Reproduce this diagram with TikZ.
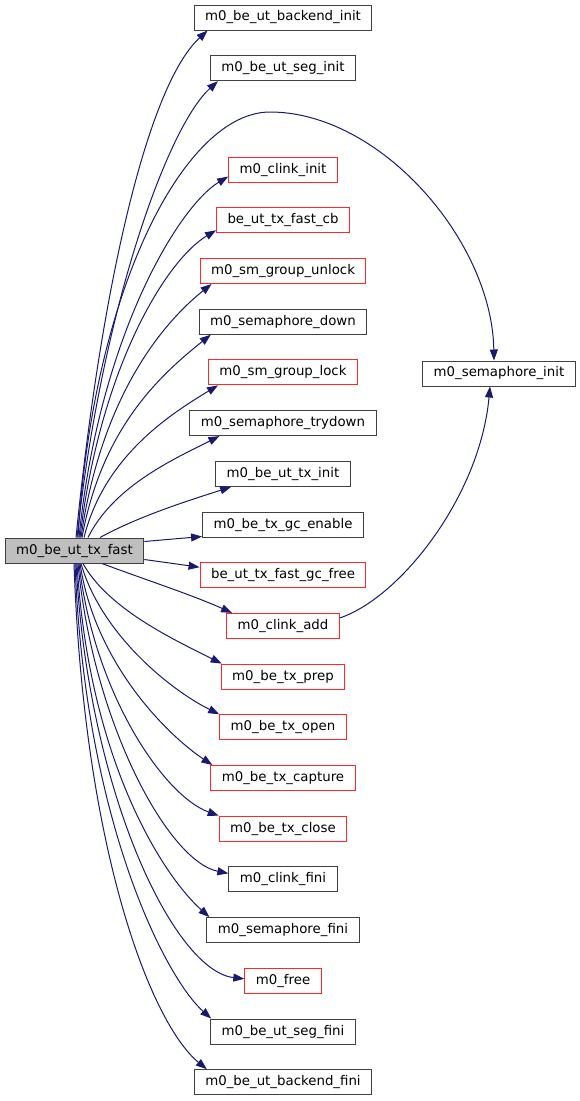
\documentclass[tikz,border=0pt]{standalone}
\usepackage{fontspec}
\setmainfont{DejaVu Sans}
\usetikzlibrary{arrows.meta}
\definecolor{navy}{RGB}{25,25,112}
\definecolor{fnred}{RGB}{255,40,40}

\begin{document}
\begin{tikzpicture}[x=1pt,y=-1pt,
  fn/.style={draw=black!75,line width=1pt,fill=white,minimum height=25pt,
    inner xsep=11pt,inner ysep=0pt,font=\fontsize{13.33}{16}\selectfont},
  redfn/.style={fn,draw=fnred},
  mainfn/.style={fn,fill=black!25},
  edgecall/.style={draw=navy,line width=1pt,-{Triangle[length=11pt,width=8pt]}}]
\useasboundingbox (0,0) rectangle (579,1101);

\node[mainfn] (main) at (74.5,550.5) {m0\_be\_ut\_tx\_fast};

\node[fn] (n0) at (283,17.5) {m0\_be\_ut\_backend\_init};
\node[fn] (n1) at (283,68.2) {m0\_be\_ut\_seg\_init};
\node[redfn] (n3) at (283,169.6) {m0\_clink\_init};
\node[redfn] (n4) at (283,220.3) {be\_ut\_tx\_fast\_cb};
\node[redfn] (n5) at (283,271) {m0\_sm\_group\_unlock};
\node[fn] (n6) at (283,321.7) {m0\_semaphore\_down};
\node[redfn] (n7) at (283,372.4) {m0\_sm\_group\_lock};
\node[fn] (n8) at (283,423.1) {m0\_semaphore\_trydown};
\node[fn] (n9) at (283,473.8) {m0\_be\_ut\_tx\_init};
\node[fn] (n10) at (283,524.5) {m0\_be\_tx\_gc\_enable};
\node[redfn] (n11) at (283,575.2) {be\_ut\_tx\_fast\_gc\_free};
\node[redfn] (n12) at (283,625.9) {m0\_clink\_add};
\node[redfn] (n13) at (283,676.6) {m0\_be\_tx\_prep};
\node[redfn] (n14) at (283,727.3) {m0\_be\_tx\_open};
\node[redfn] (n15) at (283,778) {m0\_be\_tx\_capture};
\node[redfn] (n16) at (283,828.7) {m0\_be\_tx\_close};
\node[fn] (n17) at (283,879.4) {m0\_clink\_fini};
\node[fn] (n18) at (283,930.1) {m0\_semaphore\_fini};
\node[redfn] (n19) at (283,980.8) {m0\_free};
\node[fn] (n20) at (283,1031.5) {m0\_be\_ut\_seg\_fini};
\node[fn] (n21) at (283,1082.2) {m0\_be\_ut\_backend\_fini};

\node[fn] (seminit) at (499,373.5) {m0\_semaphore\_init};

% calls going up
\draw[edgecall] ([xshift=1.5pt]main.north) .. controls +(25,-250) and +(-60,55) .. ([xshift=14pt]n0.south west);
\draw[edgecall] ([xshift=2.5pt]main.north) .. controls +(25,-230) and +(-50,45) .. ([xshift=8pt]n1.south west);
\draw[edgecall] ([xshift=3.5pt]main.north) .. controls +(15,-250) and +(-85,0) .. (270,112)
  .. controls +(110,0) and +(-2,-120) .. ([xshift=-5pt]seminit.north);
\draw[edgecall] ([xshift=4.5pt]main.north) .. controls +(20,-200) and +(-50,30) .. ([yshift=-7pt]n3.west);
\draw[edgecall] ([xshift=5.5pt]main.north) .. controls +(20,-170) and +(-50,30) .. ([yshift=3pt]n4.south west);
\draw[edgecall] ([xshift=6.5pt]main.north) .. controls +(20,-140) and +(-50,40) .. ([xshift=12pt]n5.south west);
\draw[edgecall] ([xshift=7.5pt]main.north) .. controls +(20,-110) and +(-50,40) .. ([xshift=12pt]n6.south west);
\draw[edgecall] ([xshift=9.5pt]main.north) .. controls +(20,-80) and +(-50,30) .. ([xshift=10pt]n7.south west);
\draw[edgecall] ([xshift=13.5pt]main.north) .. controls +(25,-50) and +(-50,25) .. ([xshift=30pt]n8.south west);
\draw[edgecall] ([xshift=25.5pt]main.north) .. controls +(40,-22) and +(-40,13) .. ([xshift=16pt]n9.south west);
\draw[edgecall] ([yshift=9pt]main.east) -- ([yshift=1pt]n10.south west);
\draw[edgecall] ([yshift=-9pt]main.east) -- ([yshift=-5pt]n11.north west);
% calls going down
\draw[edgecall] ([xshift=27.5pt]main.south) .. controls +(40,15) and +(-40,-18) .. ([xshift=6pt]n12.north west);
\draw[edgecall] ([xshift=8.5pt]main.south) .. controls +(25,45) and +(-50,-25) .. ([xshift=1pt]n13.north west);
\draw[edgecall] ([xshift=6.5pt]main.south) .. controls +(20,70) and +(-50,-25) .. (n14.north west);
\draw[edgecall] ([xshift=5.5pt]main.south) .. controls +(15,100) and +(-45,-30) .. ([xshift=2pt]n15.north west);
\draw[edgecall] ([xshift=4.5pt]main.south) .. controls +(15,130) and +(-55,-20) .. (n16.north west);
\draw[edgecall] ([xshift=3.5pt]main.south) .. controls +(15,160) and +(-60,-12) .. ([yshift=6pt]n17.west);
\draw[edgecall] ([xshift=2.5pt]main.south) .. controls +(12,200) and +(-45,-40) .. ([xshift=3pt]n18.north west);
\draw[edgecall] ([xshift=1.5pt]main.south) .. controls +(12,230) and +(-70,-8) .. ([yshift=2pt]n19.west);
\draw[edgecall] ([xshift=0.5pt]main.south) .. controls +(10,260) and +(-45,-40) .. ([xshift=1pt]n20.north west);
\draw[edgecall] ([xshift=-0.5pt]main.south) .. controls +(10,290) and +(-55,-45) .. ([xshift=13pt]n21.north west);

\draw[edgecall] ([yshift=8pt]n12.east) .. controls +(60,-20) and +(-10,110) .. ([xshift=-9pt]seminit.south);
\end{tikzpicture}
\end{document}
